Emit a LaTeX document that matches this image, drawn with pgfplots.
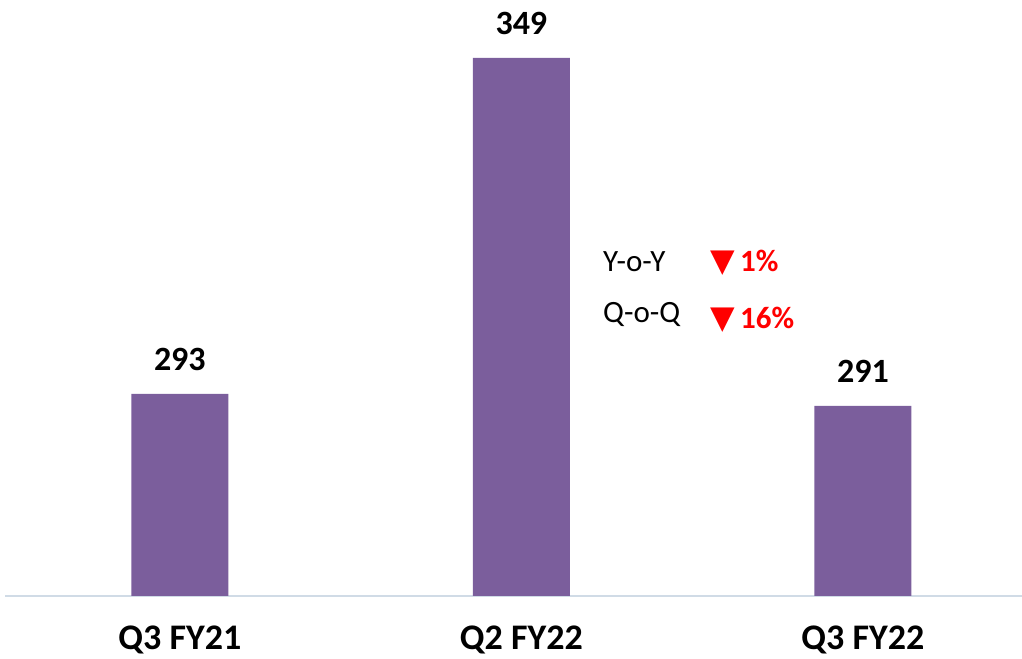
\documentclass[border=0pt]{standalone}
\usepackage{pgfplots}
\pgfplotsset{compat=1.18}
\usepackage{fontspec}
\setmainfont{Carlito}
\newfontfamily\dejavu{DejaVu Sans}
\definecolor{barpurple}{HTML}{7B5E9C}
\definecolor{axisline}{HTML}{D0DBE6}
\begin{document}
\begin{tikzpicture}[x=1bp,y=1bp]
\path[use as bounding box] (0,0) rectangle (1022,659);
\begin{axis}[
  at={(5bp,63bp)}, anchor=south west,
  scale only axis, width=1017bp, height=596bp,
  xmin=-0.512, xmax=2.466, ymin=259.33, ymax=358.67,
  axis y line=none,
  axis x line*=bottom,
  x axis line style={draw=axisline, line width=1.5bp, -},
  xtick={0,1,2},
  xticklabels={Q3 FY21, Q2 FY22, Q3 FY22},
  major tick length=0pt,
  xticklabel style={anchor=base, inner sep=0pt, yshift=-54bp,
    font=\bfseries\fontsize{36bp}{40bp}\selectfont},
  ybar, bar width=97bp,
  /pgf/number format/assume math mode=true,
  nodes near coords,
  every node near coord/.append style={anchor=base, inner sep=0pt, yshift=23bp,
    font=\bfseries\fontsize{34bp}{38bp}\selectfont, text=black},
]
\addplot[fill=barpurple, draw=none] coordinates {(0,293) (1,349) (2,291)};
\end{axis}
\node[anchor=base west, inner sep=0pt, font=\fontsize{31bp}{36bp}\selectfont] at (603,387) {Y-o-Y};
\node[anchor=base west, inner sep=0pt, font=\fontsize{31bp}{36bp}\selectfont] at (603,336) {Q-o-Q};
\node[anchor=base west, inner sep=0pt, text=red, font=\dejavu\fontsize{32bp}{36bp}\selectfont] at (710,387) {▼};
\node[anchor=base west, inner sep=0pt, text=red, font=\dejavu\fontsize{32bp}{36bp}\selectfont] at (710,330) {▼};
\node[anchor=base west, inner sep=0pt, text=red, font=\bfseries\fontsize{31bp}{36bp}\selectfont] at (740,387) {1\%};
\node[anchor=base west, inner sep=0pt, text=red, font=\bfseries\fontsize{31bp}{36bp}\selectfont] at (740,330) {16\%};
\end{tikzpicture}
\end{document}
